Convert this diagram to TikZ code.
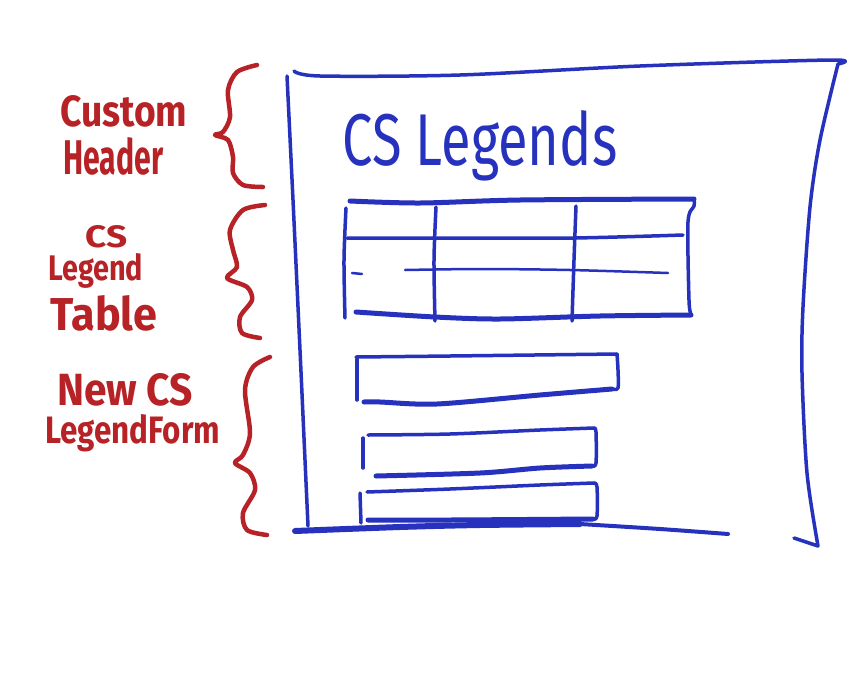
\documentclass[tikz,border=0pt]{standalone}
\usepackage{fontspec}
\usepackage{graphicx}
\setmainfont{Fira Sans}
\definecolor{penblue}{RGB}{38,50,190}
\definecolor{penred}{RGB}{183,34,38}
\tikzset{
  pen/.style={draw=penblue, line width=3.5pt, line cap=round, line join=round},
  fatpen/.style={pen, line width=5pt},
  thinpen/.style={pen, line width=2.5pt},
  brace/.style={draw=penred, line width=4.5pt, line cap=round, line join=round},
  lbl/.style={text=penred, font=\bfseries, inner sep=0pt, anchor=north west},
  ttl/.style={text=penblue, inner sep=0pt, anchor=north west},
}
\newcommand{\fitbox}[3]{\resizebox{#1}{#2}{#3}}
\begin{document}
\begin{tikzpicture}[x=1pt,y=-1pt]
\useasboundingbox (0,0) rectangle (860,675);
\fill[white] (0,0) rectangle (860,675);

% outer page frame
\draw[pen] plot[smooth] coordinates {(287,76) (293,200) (300,350) (305,460) (308,526)};
\draw[pen] plot[smooth] coordinates {(294,71) (320,76) (460,75) (640,66) (831,60) (838,64)};
\draw[pen] plot[smooth] coordinates {(838,64) (820,140) (810,207) (803,307) (802,373) (807,473) (818,546)} -- (794,538);
\draw[pen, line width=6pt] plot[smooth] coordinates {(295,531) (400,527) (480,525) (580,524)};
\draw[pen, line width=4pt] plot[smooth] coordinates {(580,524) (660,529) (728,534)};

% title
\node[ttl] (title) at (342,110) {\fitbox{275pt}{55pt}{CS Legends}};

% legend table
\draw[fatpen] plot[smooth] coordinates {(350,201) (420,203) (520,200) (694,199)};
\draw[pen] plot[smooth] coordinates {(694,199) (694,206) (688,222) (689,300) (691,314)};
\draw[fatpen] plot[smooth] coordinates {(356,312) (435,317) (500,319) (600,316) (691,315)};
\draw[pen] plot[smooth] coordinates {(346,208) (344,260) (345,318)};
\draw[pen] plot[smooth] coordinates {(347,238) (450,238) (573,238) (683,235)};
\draw[thinpen] (352,273) -- (362,274);
\draw[thinpen] plot[smooth] coordinates {(405,270) (480,269) (570,270) (668,273)};
\draw[pen] plot[smooth] coordinates {(436,207) (434,260) (435,321)};
\draw[pen] plot[smooth] coordinates {(576,206) (574,260) (572,321)};

% form field 1
\draw[pen] plot[smooth] coordinates {(356,357) (450,356) (617,354)};
\draw[pen] plot[smooth] coordinates {(617,354) (618,370) (618,388) (612,389)};
\draw[fatpen] plot[smooth] coordinates {(612,389) (540,395) (437,404) (380,402) (364,402)};
\draw[pen] (357,359) -- (357,400);
% form field 2
\draw[pen] plot[smooth] coordinates {(368,435) (450,434) (540,430) (594,428)};
\draw[pen] plot[smooth] coordinates {(594,428) (596,432) (596,463) (592,466)};
\draw[fatpen] plot[smooth] coordinates {(592,466) (540,468) (480,473) (376,476)};
\draw[pen] (363,438) -- (363,468);
% form field 3
\draw[pen] plot[smooth] coordinates {(367,492) (450,489) (540,485) (594,483)};
\draw[pen] plot[smooth] coordinates {(594,483) (597,487) (597,516) (593,519)};
\draw[fatpen] plot[smooth] coordinates {(593,519) (450,520) (368,520)};
\draw[pen] (360,493) -- (361,523);

% braces
\draw[brace] plot[smooth] coordinates {(257,65) (237,72) (228,90) (230,117) (223,132) (215,135) (228,140) (233,157) (233,173) (243,185) (263,187)};
\draw[brace] plot[smooth] coordinates {(265,205) (243,210) (230,230) (233,250) (237,267) (227,278) (247,287) (252,300) (240,317) (242,333) (260,338)};
\draw[brace] plot[smooth] coordinates {(270,357) (253,367) (245,390) (250,433) (243,455) (235,463) (250,473) (255,490) (243,513) (247,530) (267,535)};

% labels
\node[lbl] (custom) at (60,95) {\fitbox{127pt}{31pt}{Custom}};
\node[lbl] (header) at (63,137) {\fitbox{100pt}{37pt}{Header}};
\node[lbl] (cs) at (85,225) {\fitbox{42pt}{22pt}{CS}};
\node[lbl] (legend) at (48,253) {\fitbox{95pt}{27pt}{Legend}};
\node[lbl] (table) at (50,295) {\fitbox{107pt}{35pt}{Table}};
\node[lbl] (newcs) at (57,373) {\fitbox{136pt}{32pt}{New CS}};
\node[lbl] (legendform) at (45,414) {\fitbox{175pt}{29pt}{LegendForm}};
\end{tikzpicture}
\end{document}
